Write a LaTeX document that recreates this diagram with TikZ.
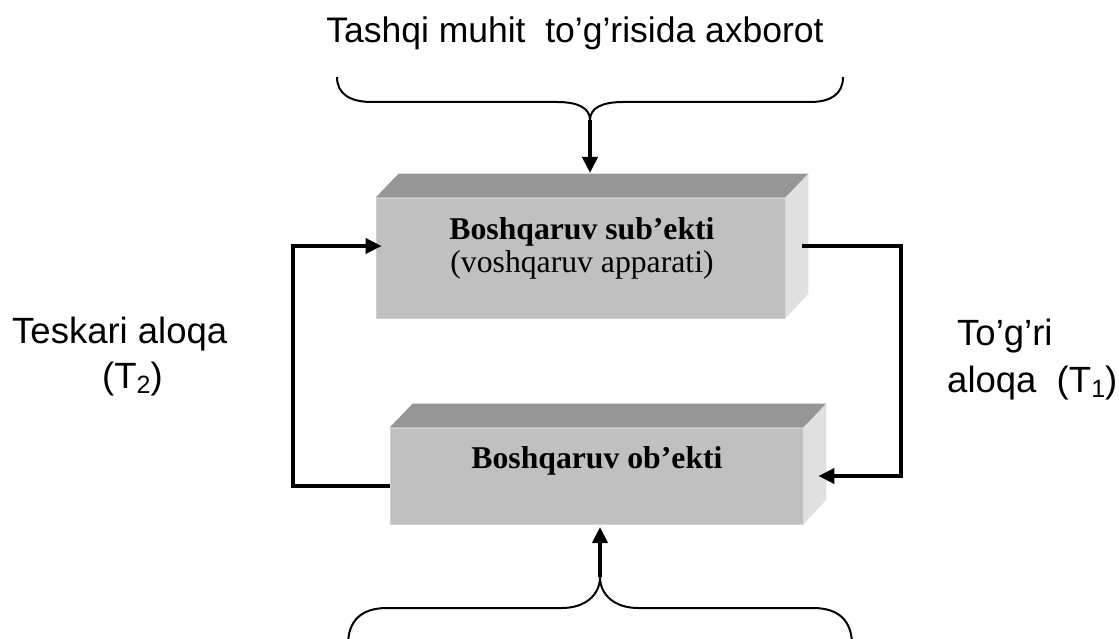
\documentclass[tikz,border=0pt]{standalone}
\usepackage{fontspec}
\setmainfont{Liberation Serif}
\newfontfamily\arialfont{Liberation Sans}
\usetikzlibrary{arrows.meta,calc}
\newcommand\lowidx[1]{\raisebox{-0.3ex}{\fontsize{25}{25}\selectfont #1}}
\definecolor{frontgray}{HTML}{C0C0C0}
\definecolor{topgray}{HTML}{969696}
\definecolor{sidegray}{HTML}{E0E0E0}
\tikzset{
  box/.style={draw=black!18, line width=0.8pt, fill=frontgray, inner sep=0pt},
  topface/.style={fill=topgray},
  sideface/.style={fill=sidegray},
  boxtext/.style={font=\fontsize{31.7}{34}\selectfont, anchor=base, inner sep=0pt},
  sidetext/.style={font=\arialfont\fontsize{36.5}{40}\selectfont, anchor=base west, inner sep=0pt},
  conn/.style={line width=3.8pt, -{Triangle[length=16pt,width=15pt]}},
  brace/.style={line width=2pt},
}
\begin{document}
\begin{tikzpicture}[x=1pt,y=-1pt]
\useasboundingbox (0,0) rectangle (1119,639);

% upper block: subject of management
\node[box, minimum width=409pt, minimum height=120pt] (subj) at (580.5,258) {};
\fill[topface] (subj.north west) -- ++(23,-24) -- ($(subj.north east)+(23,-24)$) -- (subj.north east) -- cycle;
\fill[sideface] (subj.north east) -- ++(23,-24) -- ++(0,120) -- (subj.south east) -- cycle;
\node[boxtext] (subjA) at (582,240) {\bfseries Boshqaruv sub’ekti};
\node[boxtext] (subjB) at (582,272) {(voshqaruv apparati)};

% lower block: object of management
\node[box, minimum width=413pt, minimum height=96pt] (obj) at (596.5,476) {};
\fill[topface] (obj.north west) -- ++(23,-24) -- ($(obj.north east)+(23,-24)$) -- (obj.north east) -- cycle;
\fill[sideface] (obj.north east) -- ++(23,-24) -- ++(0,96) -- (obj.south east) -- cycle;
\node[boxtext] (objA) at (597,468) {\bfseries Boshqaruv ob’ekti};

% external information with its brace
\node[font=\arialfont\fontsize{35.5}{38}\selectfont, anchor=base, inner sep=0pt] (info) at (575,43) {Tashqi muhit\ \ to’g’risida axborot};
\coordinate (tcusp) at (590,120);
\coordinate (tin) at (590,173);
\draw[brace] (337,77) .. controls (337,94) and (350,102) .. (372,102) -- (557,102)
  .. controls (578,102) and (590,108) .. (tcusp)
  .. controls (590,108) and (602,102) .. (623,102) -- (810,102)
  .. controls (831,102) and (843,94) .. (843,77);
\draw[conn] (tcusp) -- (tin);

% lower brace feeding the object
\coordinate (bcusp) at (600,577);
\coordinate (bin) at (600,527);
\draw[brace] (348,645) .. controls (348,620) and (362,608) .. (387,608) -- (562,608)
  .. controls (585,608) and (600,595) .. (bcusp)
  .. controls (600,595) and (615,608) .. (638,608) -- (813,608)
  .. controls (838,608) and (852,620) .. (852,645);
\draw[conn] (bcusp) -- (bin);

% feedback loop (left) and direct link (right)
\draw[conn] ($(obj.west)+(0,10)$) -- ++(-97,0) |- ($(subj.west)+(6,-12)$);
\draw[conn] ($(subj.east)+(17,-12)$) -- (901,246) |- ($(obj.east)+(15,0)$);

% link labels
\node[sidetext] (fbA) at (12,343) {Teskari aloqa};
\node[sidetext] (fbB) at (102,388) {(T\lowidx{2})};
\node[sidetext] (dlA) at (957,345) {To’g’ri};
\node[sidetext] (dlB) at (947,392) {aloqa\ \ (T\lowidx{1})};
\end{tikzpicture}
\end{document}
